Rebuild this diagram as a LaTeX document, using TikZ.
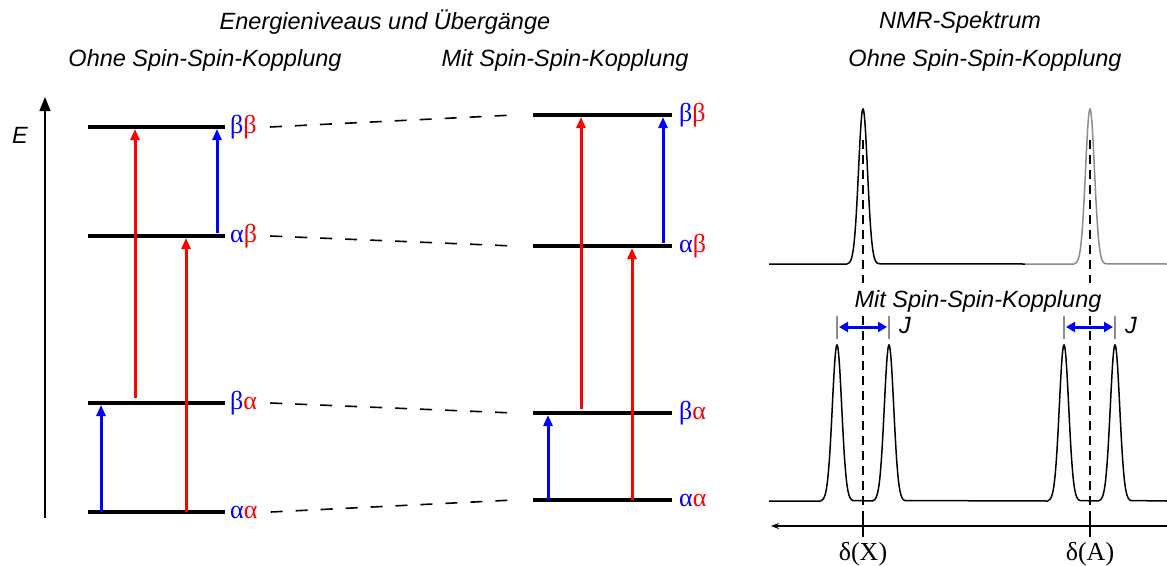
\documentclass[tikz,border=0pt]{standalone}
\usepackage{fontspec}
\setmainfont{Liberation Sans}
\newfontfamily\grk{Liberation Serif}
\usetikzlibrary{arrows.meta}
\definecolor{myblue}{RGB}{0,0,255}
\definecolor{myred}{RGB}{255,0,0}
\definecolor{peakgray}{RGB}{140,140,140}
\begin{document}
\begin{tikzpicture}[x=1pt,y=-1pt,
  level/.style={line width=4pt},
  trans/.style={line width=3pt,-{Triangle[length=11pt,width=9pt]}},
  conn/.style={line width=1.6pt,dash pattern=on 12pt off 13pt},
  vdash/.style={line width=1.6pt,dash pattern=on 9pt off 6pt},
  ttl/.style={font=\fontsize{23.5}{27}\selectfont\itshape,inner sep=0pt},
  glbl/.style={anchor=west,font=\fontsize{26}{29}\selectfont\grk,inner sep=0pt},
  dlbl/.style={font=\fontsize{26}{29}\selectfont\grk,inner sep=0pt},
  spec/.style={line width=1.5pt},
  jtick/.style={peakgray,line width=1.3pt},
  jarrow/.style={myblue,line width=3pt,{Triangle[length=9pt,width=10pt]}-{Triangle[length=9pt,width=10pt]}}]
\useasboundingbox (0,0) rectangle (1167,565);

% titles
\node[ttl] (t1) at (385,22) {Energieniveaus und Übergänge};
\node[ttl] (t2) at (205,60) {Ohne Spin-Spin-Kopplung};
\node[ttl] (t3) at (565,60) {Mit Spin-Spin-Kopplung};
\node[ttl] (t4) at (960,22) {NMR-Spektrum};
\node[ttl] (t5) at (985,60) {Ohne Spin-Spin-Kopplung};
\node[ttl] (t6) at (978,301) {Mit Spin-Spin-Kopplung};

% energy axis
\coordinate (Ebot) at (45,518);
\coordinate (Etop) at (45,97);
\draw[line width=1.4pt,-{Triangle[length=14pt,width=11pt]}] (Ebot) -- (Etop);
\node[ttl] (E) at (20,135) {E};

% left levels (without coupling)
\coordinate (Lbb1) at (88,127); \coordinate (Lbb2) at (225,127);
\coordinate (Lab1) at (88,236); \coordinate (Lab2) at (225,236);
\coordinate (Lba1) at (88,403); \coordinate (Lba2) at (225,403);
\coordinate (Laa1) at (88,512); \coordinate (Laa2) at (225,512);
\draw[level] (Lbb1) -- (Lbb2);
\draw[level] (Lab1) -- (Lab2);
\draw[level] (Lba1) -- (Lba2);
\draw[level] (Laa1) -- (Laa2);
\node[glbl] (lbb) at (230,127) {\textcolor{myblue}{β}\textcolor{myred}{β}};
\node[glbl] (lab) at (230,236) {\textcolor{myblue}{α}\textcolor{myred}{β}};
\node[glbl] (lba) at (230,403) {\textcolor{myblue}{β}\textcolor{myred}{α}};
\node[glbl] (laa) at (230,512) {\textcolor{myblue}{α}\textcolor{myred}{α}};

% middle levels (with coupling)
\coordinate (Mbb1) at (533,115); \coordinate (Mbb2) at (672,115);
\coordinate (Mab1) at (533,246); \coordinate (Mab2) at (672,246);
\coordinate (Mba1) at (533,413); \coordinate (Mba2) at (672,413);
\coordinate (Maa1) at (533,500); \coordinate (Maa2) at (672,500);
\draw[level] (Mbb1) -- (Mbb2);
\draw[level] (Mab1) -- (Mab2);
\draw[level] (Mba1) -- (Mba2);
\draw[level] (Maa1) -- (Maa2);
\node[glbl] (mbb) at (679,115) {\textcolor{myblue}{β}\textcolor{myred}{β}};
\node[glbl] (mab) at (679,246) {\textcolor{myblue}{α}\textcolor{myred}{β}};
\node[glbl] (mba) at (679,413) {\textcolor{myblue}{β}\textcolor{myred}{α}};
\node[glbl] (maa) at (679,500) {\textcolor{myblue}{α}\textcolor{myred}{α}};

% dashed correlation lines
\draw[conn] ([xshift=13pt]lbb.east) -- ([xshift=-19pt]Mbb1);
\draw[conn] ([xshift=13pt]lab.east) -- ([xshift=-19pt]Mab1);
\draw[conn] ([xshift=13pt]lba.east) -- ([xshift=-19pt]Mba1);
\draw[conn] ([xshift=13pt]laa.east) -- ([xshift=-19pt]Maa1);

% left transitions
\draw[trans,myred]  ([yshift=5pt]Lba1 -| 135,0) -- ([yshift=-2pt]Lbb1 -| 135,0);
\draw[trans,myblue] ([yshift=3pt]Lab1 -| 217,0) -- ([yshift=-2pt]Lbb1 -| 217,0);
\draw[trans,myred]  (Laa1 -| 186,0) -- ([yshift=-2pt]Lab1 -| 186,0);
\draw[trans,myblue] (Laa1 -| 101,0) -- ([yshift=-2pt]Lba1 -| 101,0);

% middle transitions
\draw[trans,myred]  ([yshift=4pt]Mba1 -| 581,0) -- ([yshift=-2pt]Mbb1 -| 581,0);
\draw[trans,myblue] ([yshift=3pt]Mab1 -| 663,0) -- ([yshift=-2pt]Mbb1 -| 663,0);
\draw[trans,myred]  (Maa1 -| 632,0) -- ([yshift=-2pt]Mab1 -| 632,0);
\draw[trans,myblue] (Maa1 -| 548,0) -- ([yshift=-2pt]Mba1 -| 548,0);

% NMR spectrum without coupling
\draw[spec] (769,264) -- (847,264)
  plot[domain=-16:16,samples=81,smooth] ({863+\x},{264-155*exp(-(\x*\x)/40)})
  -- (1025,264);
\draw[spec,peakgray] (1025,264) -- (1074,264)
  plot[domain=-16:16,samples=81,smooth] ({1090+\x},{264-155*exp(-(\x*\x)/40)})
  -- (1167,264);

% NMR spectrum with coupling
\draw[spec] (769,501) -- (821,501)
  plot[domain=-16:16,samples=81,smooth] ({837+\x},{501-156*exp(-(\x*\x)/44)})
  -- (873,501)
  plot[domain=-16:16,samples=81,smooth] ({889+\x},{501-156*exp(-(\x*\x)/44)})
  -- (1048,501)
  plot[domain=-16:16,samples=81,smooth] ({1064+\x},{501-156*exp(-(\x*\x)/44)})
  -- (1099,501)
  plot[domain=-16:16,samples=81,smooth] ({1115+\x},{501-156*exp(-(\x*\x)/44)})
  -- (1167,501);

% chemical shift markers
\coordinate (X1) at (863,140); \coordinate (X2) at (863,283);
\coordinate (X3) at (863,316); \coordinate (X4) at (863,519);
\coordinate (A1) at (1090,140); \coordinate (A2) at (1090,283);
\coordinate (A3) at (1090,316); \coordinate (A4) at (1090,519);
\draw[vdash] (X1) -- (X2);
\draw[vdash] (X3) -- (X4);
\draw[vdash] (A1) -- (A2);
\draw[vdash] (A3) -- (A4);

% coupling constants J
\draw[jtick] (837,316) -- (837,339);
\draw[jtick] (889,316) -- (889,339);
\draw[jtick] (1064,316) -- (1064,339);
\draw[jtick] (1115,316) -- (1115,339);
\draw[jarrow] (839,327) -- (887,327);
\draw[jarrow] (1066,327) -- (1113,327);
\node[ttl,anchor=west] (J1) at (899,326) {J};
\node[ttl,anchor=west] (J2) at (1125,326) {J};

% shift axis
\coordinate (ax1) at (1167,526); \coordinate (ax2) at (771,526);
\draw[line width=1.3pt,-{Stealth[length=8pt,width=6pt]}] (ax1) -- (ax2);
\draw[line width=1.6pt] (863,517) -- (863,537);
\draw[line width=1.6pt] (1090,517) -- (1090,537);
\node[dlbl] (dX) at (863,554) {δ(X)};
\node[dlbl] (dA) at (1090,554) {δ(A)};
\end{tikzpicture}
\end{document}
